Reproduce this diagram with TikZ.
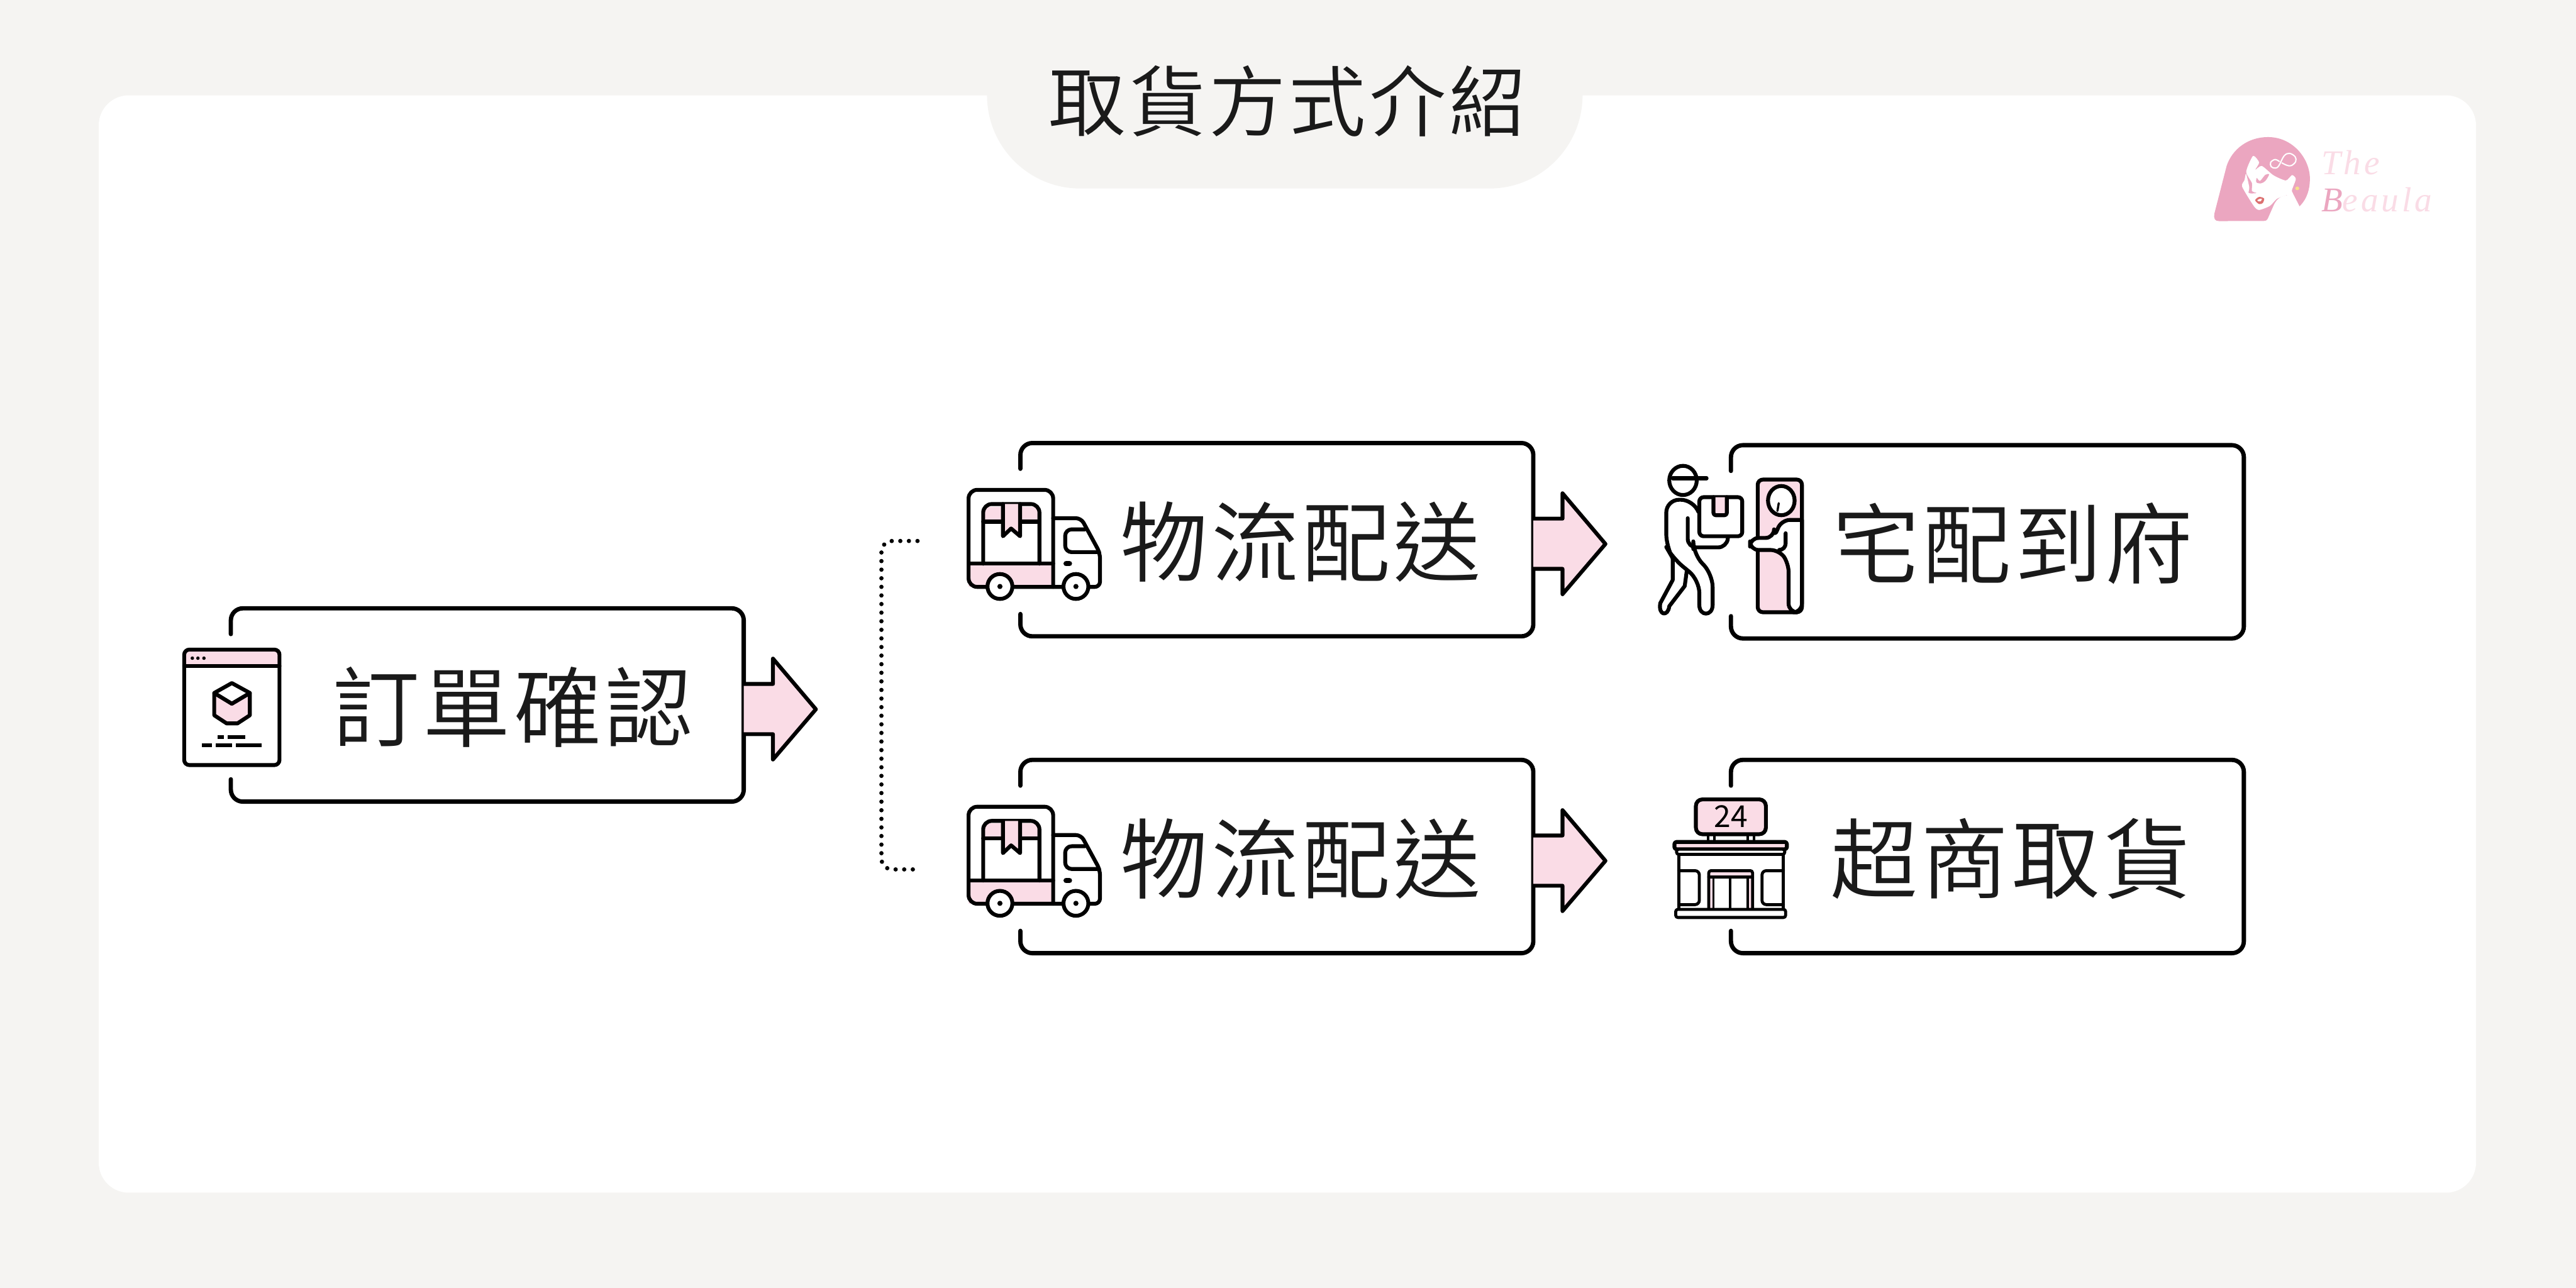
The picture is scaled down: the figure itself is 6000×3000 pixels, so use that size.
\documentclass[tikz,border=0pt]{standalone}
\usepackage{fontspec}
\usepackage{xcolor}
\usetikzlibrary{calc}
\newfontfamily\cjk[LetterSpace=4]{Noto Sans CJK TC DemiLight}
\newfontfamily\plaincjk{Noto Sans CJK TC}
\newfontfamily\logofont[LetterSpace=9]{Liberation Serif}

\definecolor{pagegray}{HTML}{F5F4F2}
\definecolor{softpink}{HTML}{FADCE6}
\definecolor{logopink}{HTML}{EBA6C0}
\definecolor{inkblack}{HTML}{1A1A1A}
\definecolor{lipred}{HTML}{DC7070}
\definecolor{earyellow}{HTML}{F7E08A}

\tikzset{
  stepbox/.style={minimum width=11.94cm,minimum height=4.5cm,inner sep=0pt,outer sep=0pt},
  steplabel/.style={inner sep=0pt,text=inkblack,font=\cjk\fontsize{58}{64}\selectfont},
  frameline/.style={line width=0.1cm,rounded corners=0.28cm,line cap=round},
  iconline/.style={line width=0.09cm,line join=round,line cap=round},
  softicon/.style={iconline,fill=softpink},
  whiteicon/.style={iconline,fill=white},
  blockarrow/.style={iconline,fill=softpink},
  branchline/.style={line width=0.1cm,line cap=round,dash pattern=on 0pt off 0.2cm,rounded corners=0.25cm},
  logotext/.style={anchor=base west,inner sep=0pt,text=softpink,font=\logofont\itshape\fontsize{23}{26}\selectfont},
  truckicon/.pic={
    \fill[softpink] (2256,1313) rectangle (2453,1367);
    \fill[softpink] (2290,1180) rectangle (2421,1215);
    \draw[iconline,rounded corners=0.2cm] (2453,1367) -- (2256,1367) -- (2256,1141) -- (2453,1141) -- (2453,1367);
    \draw[iconline] (2256,1313) -- (2453,1313);
    \draw[iconline,rounded corners=0.2cm] (2290,1313) -- (2290,1174) -- (2421,1174) -- (2421,1313);
    \draw[iconline] (2290,1215) -- (2421,1215);
    \draw[softicon] (2336,1174) -- (2336,1249) -- (2355,1231) -- (2376,1249) -- (2376,1174);
    \draw[iconline,rounded corners=0.12cm] (2453,1207) -- (2518,1207) -- (2562,1288) -- (2562,1367) -- (2453,1367);
    \draw[iconline,rounded corners=0.15cm] (2527,1233) -- (2481,1233) -- (2481,1286) -- (2560,1286);
    \draw[iconline,line width=0.12cm] (2483,1313) -- (2491,1313);
    \draw[whiteicon] (2329,1366) circle [radius=29];
    \draw[whiteicon] (2506,1366) circle [radius=29];
    \fill (2329,1366) circle [radius=6];
    \fill (2506,1366) circle [radius=6];
  }
}

\newcommand{\stepframe}[1]{
  \draw[frameline] ($(#1.north west)+(0,60)$) -- (#1.north west) -- (#1.north east)
    -- (#1.south east) -- (#1.south west) -- ($(#1.south west)+(0,-52)$);
}
\newcommand{\stepnext}[1]{
  \draw[blockarrow] ($(#1.east)+(0,-49)$) -- ++(68,0) -- ++(0,-59) -- ++(100,118)
    -- ++(-100,117) -- ++(0,-59) -- ++(-68,0);
}

\begin{document}
\begin{tikzpicture}[x=0.01cm,y=-0.01cm]
  \useasboundingbox (0,0) rectangle (6000,3000);
  \fill[pagegray] (0,0) rectangle (6000,3000);
  \fill[white,rounded corners=0.7cm] (230,222) rectangle (5767,2778);
  \fill[pagegray,rounded corners=2.17cm] (2299,150) -- (2299,439) -- (3686,439) -- (3686,150);
  \node[inner sep=0pt,text=inkblack,font=\cjk\fontsize{51}{56}\selectfont] (title) at (2999,235) {取貨方式介紹};

  % boxes
  \node[stepbox] (order) at (1135,1642) {};
  \node[stepbox] (shiptop) at (2974,1257) {};
  \node[stepbox] (shipbottom) at (2974,1995) {};
  \node[stepbox] (home) at (4629,1262) {};
  \node[stepbox] (store) at (4629,1995) {};

  \stepframe{order}
  \stepframe{shiptop}
  \stepframe{shipbottom}
  \stepframe{home}
  \stepframe{store}

  \stepnext{order}
  \stepnext{shiptop}
  \stepnext{shipbottom}

  \node[steplabel] (orderlabel) at (1194,1647) {訂單確認};
  \node[steplabel] (shiptoplabel) at (3030,1262) {物流配送};
  \node[steplabel] (shipbottomlabel) at (3030,2000) {物流配送};
  \node[steplabel] (homelabel) at (4688,1266) {宅配到府};
  \node[steplabel] (storelabel) at (4683,2000) {超商取貨};

  % bracket
  \coordinate (branchtop) at (2137,1260);
  \coordinate (branchbottom) at (2137,2025);
  \draw[branchline] (branchtop) -- ++(-84,0) -- ++(0,765) -- (branchbottom);

  % browser icon
  \fill[white] (429,1513) rectangle (651,1782);
  \fill[softpink] (429,1513) rectangle (651,1551);
  \draw[iconline,rounded corners=0.12cm] (429,1513) rectangle (651,1782);
  \draw[iconline] (429,1551) -- (651,1551);
  \foreach \x in {448,461,475}
    \fill (\x,1533) circle [radius=4];
  \draw[softicon] (540,1639) -- (582,1614) -- (582,1666) -- (553,1685) -- (528,1685) -- (499,1666) -- (499,1614) -- cycle;
  \draw[whiteicon] (540,1591) -- (582,1614) -- (540,1639) -- (499,1614) -- cycle;
  \foreach \a/\b/\y in {507/521/1717,530/572/1717,470/494/1736,502/540/1736,549/610/1736}
    \fill (\a,\y-4) rectangle (\b,\y+4);

  % trucks
  \pic at (0,0) {truckicon};
  \pic at (0,738) {truckicon};

  % courier
  \draw[whiteicon] (3920,1119) ellipse [x radius=32,y radius=34];
  \draw[iconline] (3896,1114) -- (3975,1114);
  \draw[iconline,rounded corners=0.3cm] (3953,1185) -- (3945,1164) -- (3881,1164) -- (3881,1274) -- (3896,1300) -- (3958,1351) -- (3958,1409);
  \draw[iconline] (3958,1409) .. controls (3958,1436) and (3989,1436) .. (3989,1409);
  \draw[iconline,rounded corners=0.3cm] (3989,1409) -- (3989,1337) -- (3944,1291) -- (3944,1279);
  \draw[iconline] (3896,1300) -- (3896,1351) -- (3867,1405) .. controls (3862,1434) and (3885,1437) .. (3888,1412) -- (3924,1365) -- (3929,1328);
  \draw[iconline,rounded corners=0.2cm] (3931,1207) -- (3931,1275) -- (4022,1275) -- (4025,1249);
  \draw[whiteicon,rounded corners=0.1cm] (3958,1158) rectangle (4058,1249);
  \draw[softicon,rounded corners=0.05cm] (3991,1158) -- (3991,1200) -- (4022,1200) -- (4022,1158);

  % door
  \draw[softicon,rounded corners=0.12cm] (4094,1117) rectangle (4197,1426);
  \draw[whiteicon,rounded corners=0.2cm] (4197,1211) -- (4149,1211) -- (4132,1253) -- (4132,1253) -- (4076,1253) -- (4076,1281) -- (4144,1281) -- (4166,1312) -- (4166,1426) -- (4197,1426) -- (4197,1211);
  \draw[iconline,rounded corners=0.15cm] (4159,1242) -- (4159,1281) -- (4144,1281);
  \draw[whiteicon] (4149,1166) ellipse [x radius=31,y radius=34];
  \draw[iconline,line width=0.05cm,rounded corners=0.1cm] (4140,1190) -- (4143,1172);

  % store
  \draw[softicon,rounded corners=0.15cm] (3950,1862) rectangle (4113,1943);
  \node[inner sep=0pt,font=\plaincjk\fontsize{20}{22}\selectfont] (hours) at (4032,1902) {24};
  \foreach \x in {3978,3993,4071,4085}
    \draw[iconline,line width=0.06cm] (\x,1943) -- (\x,1961);
  \draw[iconline,line width=0.07cm] (3910,1990) -- (3910,2118);
  \draw[iconline,line width=0.07cm] (4154,1990) -- (4154,2118);
  \draw[softicon,rounded corners=0.05cm] (3900,1961) rectangle (4162,1978);
  \draw[whiteicon,line width=0.07cm,rounded corners=0.05cm] (3905,1978) rectangle (4157,1990);
  \draw[iconline,line width=0.07cm,rounded corners=0.1cm] (3910,2028) -- (3958,2028) -- (3958,2107) -- (3910,2107);
  \draw[iconline,line width=0.07cm,rounded corners=0.1cm] (4154,2028) -- (4104,2028) -- (4104,2107) -- (4154,2107);
  \fill[softpink] (3980,2028) rectangle (4082,2043);
  \fill[softpink] (3980,2043) rectangle (3991,2118);
  \fill[softpink] (4071,2043) rectangle (4082,2118);
  \draw[iconline,line width=0.07cm,rounded corners=0.05cm] (3980,2118) -- (3980,2028) -- (4082,2028) -- (4082,2118);
  \draw[iconline,line width=0.07cm] (3980,2043) -- (4082,2043);
  \foreach \x in {3991,4030,4071}
    \draw[iconline,line width=0.05cm] (\x,2043) -- (\x,2118);
  \draw[whiteicon,line width=0.07cm,rounded corners=0.05cm] (3903,2118) rectangle (4159,2137);

  % logo
  \begin{scope}[shift={(5050,280)},x=0.004146cm,y=-0.003333cm]
    \fill[logopink] (285,706) .. controls (262,706) and (254,690) .. (260,650)
      -- (328,320) .. controls (360,200) and (450,118) .. (560,118)
      .. controls (700,118) and (795,270) .. (795,410)
      .. controls (795,480) and (780,550) .. (737,602)
      -- (695,500) -- (665,525) .. controls (620,530) and (600,570) .. (590,600)
      -- (560,685) .. controls (555,700) and (548,705) .. (535,705) -- cycle;
    \fill[white] plot[smooth cycle,tension=0.4] coordinates {(476,250) (510,296) (488,348) (525,320) (590,385) (660,422) (695,384) (716,412) (694,490) (700,520) (663,525) (610,550) (570,600) (510,628) (480,600) (415,465) (428,420) (437,375) (455,470) (452,510) (497,510) (470,495) (470,440) (438,360)};
    \draw[white,line width=0.03cm] plot[smooth,tension=0.6] coordinates {(625,290) (600,275) (575,295) (578,325) (600,335) (620,320) (650,250) (680,232) (712,255) (715,290) (690,318) (665,315) (637,298)};
    \fill[logopink] plot[smooth cycle,tension=0.5] coordinates {(497,405) (515,425) (545,382) (566,380) (545,425) (520,442) (495,435)};
    \fill[lipred] plot[smooth cycle,tension=0.5] coordinates {(488,560) (510,537) (538,548) (530,580) (510,587)};
    \fill[white] plot[smooth cycle,tension=0.5] coordinates {(500,560) (515,550) (526,552) (518,568) (508,568)};
    \fill[earyellow] (724,477) circle [x radius=11,y radius=13];
  \end{scope}
  \node[logotext] (logotop) at (5406,406) {The};
  \node[logotext] (logobottom) at (5406,493) {\textcolor{logopink}{B}eaula};
\end{tikzpicture}
\end{document}
